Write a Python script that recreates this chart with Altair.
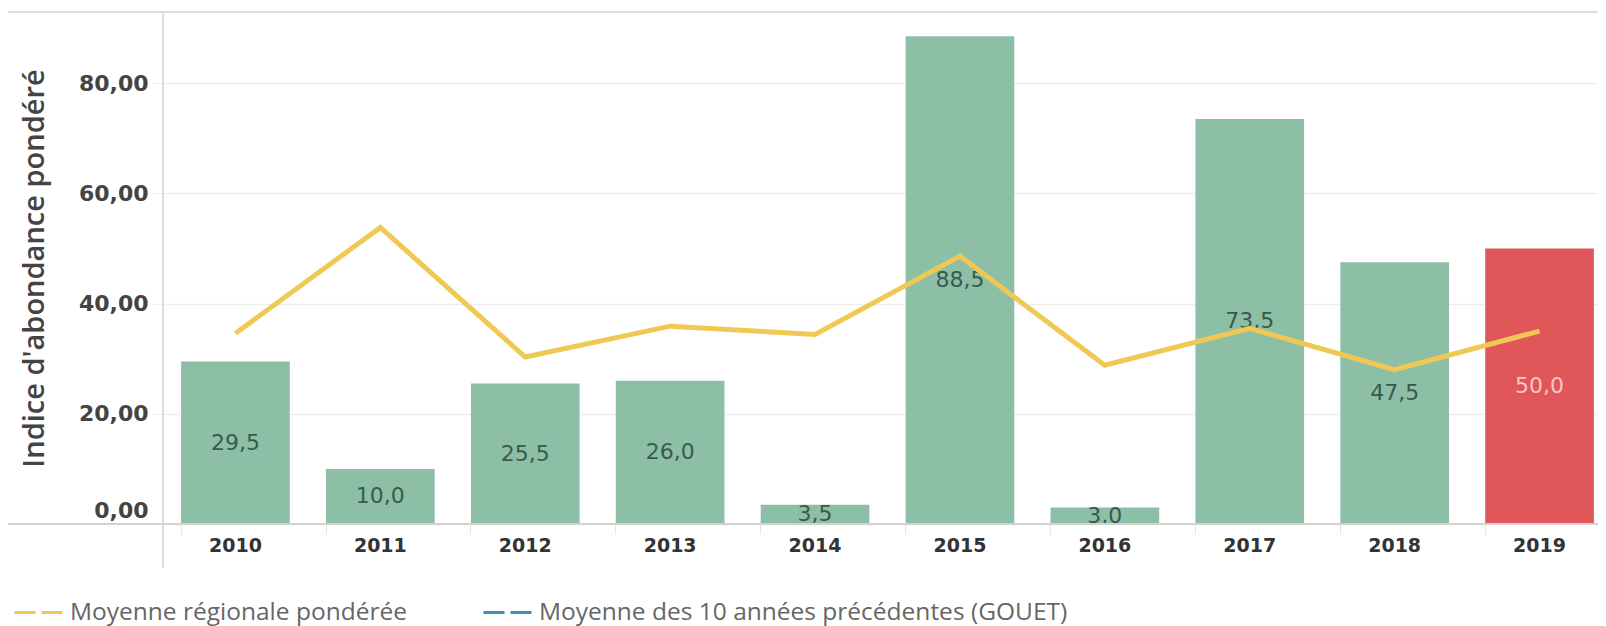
import altair as alt
import pandas as pd

years = ["2010", "2011", "2012", "2013", "2014", "2015", "2016", "2017", "2018", "2019"]
abundance = [29.5, 10.0, 25.5, 26.0, 3.5, 88.5, 3.0, 73.5, 47.5, 50.0]
regional = [34.6, 53.8, 30.3, 35.9, 34.4, 48.6, 28.8, 35.5, 28.0, 35.0]
series = ["Moyenne régionale pondérée", "Moyenne des 10 années précédentes (GOUET)"]
y_ticks = [0, 20, 40, 60, 80]
current_year = "2019"

W, H = 1435, 512
X_RANGE = 1449

bars_df = pd.DataFrame({
    "annee": years,
    "valeur": abundance,
    "label": [f"{v:.1f}".replace(".", ",") for v in abundance],
    "courant": [y == current_year for y in years],
})
line_df = pd.DataFrame({"annee": years, "moyenne": regional, "serie": series[0]})
frame_df = pd.DataFrame({"k": [0]})

x_scale = alt.Scale(paddingInner=0.25, paddingOuter=0.125, range=[0, X_RANGE])

x_enc = alt.X(
    "annee:N",
    sort=years,
    title=None,
    scale=x_scale,
    axis=alt.Axis(
        labelAngle=0,
        domain=False,
        ticks=True,
        bandPosition=0,
        tickColor="#e4e4e4",
        tickSize=10,
        tickWidth=1,
        labelPadding=11,
        labelBaseline="middle",
        labelFont="DejaVu Sans",
        labelFontWeight="bold",
        labelFontSize=19,
        labelColor="#333333",
        grid=False,
    ),
)

y_scale = alt.Scale(domain=[0, 92.9], nice=False)

bars = alt.Chart(bars_df).mark_bar().encode(
    x=x_enc,
    y=alt.Y(
        "valeur:Q",
        scale=y_scale,
        title="Indice d'abondance pondéré",
        axis=alt.Axis(
            values=y_ticks,
            labelExpr="replace(format(datum.value, '.2f'), '.', ',')",
            domain=False,
            tickSize=11,
            tickColor="#eeeeee",
            gridColor="#eeeeee",
            gridWidth=1.5,
            labelPadding=4,
            labelFont="DejaVu Sans",
            labelFontWeight="bold",
            labelFontSize=22,
            labelColor="#444444",
            labelBaseline="middle",
            labelOffset={"condition": {"test": "datum.value === 0", "value": -14}, "value": 0},
            titleFont="Open Sans",
            titleFontSize=29,
            titleFontWeight=600,
            titleColor="#444444",
            titleX=-129,
            titleY=H / 2,
            titleAlign="center",
            titleBaseline="middle",
        ),
    ),
    color=alt.condition(alt.datum.courant, alt.value("#e05659"), alt.value("#8dbfa6")),
)

labels = alt.Chart(bars_df).transform_calculate(
    mid="datum.valeur / 2"
).mark_text(font="DejaVu Sans", fontSize=22, baseline="middle", align="center").encode(
    x=alt.X("annee:N", sort=years, scale=x_scale),
    y=alt.Y("mid:Q", scale=y_scale),
    text="label:N",
    color=alt.condition(alt.datum.courant, alt.value("#f7c6c6"), alt.value("#3a5a4c")),
)

line = alt.Chart(line_df).mark_line(strokeWidth=5, strokeJoin="miter").encode(
    x=alt.X("annee:N", sort=years, scale=x_scale),
    y=alt.Y("moyenne:Q", scale=y_scale),
    color=alt.Color(
        "serie:N",
        scale=alt.Scale(domain=series, range=["#f0c954", "#3d8fb3"]),
        legend=alt.Legend(
            title=None,
            orient="none",
            direction="horizontal",
            legendX=-150,
            legendY=575,
            symbolType="stroke",
            symbolSize=2300,
            symbolStrokeWidth=3,
            symbolDash=[21, 6],
            labelFont="Open Sans",
            labelFontSize=24.5,
            labelColor="#666666",
            labelLimit=0,
            labelOffset=6,
            columnPadding=70,
            padding=0,
        ),
    ),
)

top_rule = alt.Chart(frame_df).mark_rule(color="#dddddd", strokeWidth=2).encode(
    x=alt.value(-163), x2=alt.value(W), y=alt.value(0)
)
base_rule = alt.Chart(frame_df).mark_rule(color="#d2d2d2", strokeWidth=2).encode(
    x=alt.value(-163), x2=alt.value(W), y=alt.value(H)
)
left_rule = alt.Chart(frame_df).mark_rule(color="#dddddd", strokeWidth=2).encode(
    x=alt.value(0), y=alt.value(0), y2=alt.value(556)
)

chart = alt.layer(bars, labels, line, top_rule, base_rule, left_rule).properties(
    width=W,
    height=H,
    autosize=alt.AutoSizeParams(type="none"),
    padding={"left": 155, "top": 4, "right": 0, "bottom": 112},
).configure_view(stroke=None)

chart.save("out.html", embed_options={"renderer": "svg", "actions": False})
